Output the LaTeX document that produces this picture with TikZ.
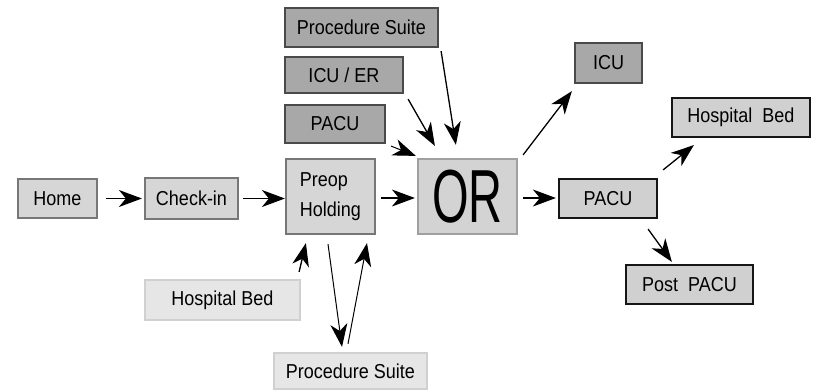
\documentclass[tikz,border=0pt]{standalone}
\usepackage{fontspec}
\setmainfont{Liberation Sans}
\usepackage{graphicx}
\usetikzlibrary{arrows.meta,calc}
\definecolor{fdark}{HTML}{A8A8A8}
\definecolor{bdark}{HTML}{4A4A4A}
\definecolor{fmid}{HTML}{D6D6D6}
\definecolor{bmid}{HTML}{777777}
\definecolor{fl}{HTML}{D3D3D3}
\definecolor{bor}{HTML}{A0A0A0}
\definecolor{flight}{HTML}{E6E6E6}
\definecolor{blight}{HTML}{D0D0D0}
\definecolor{fright}{HTML}{D0D0D0}
\definecolor{bright}{HTML}{161616}
\newcommand{\St}[1]{\scalebox{1}[1.12]{#1}}
\begin{document}
\begin{tikzpicture}[x=1pt,y=-1pt,
  box/.style={rectangle,inner sep=0pt,line width=2.2pt,font=\fontsize{18}{30}\selectfont},
  darkbox/.style={box,fill=fdark,draw=bdark},
  midbox/.style={box,fill=fmid,draw=bmid},
  orbox/.style={box,fill=fl,draw=bor},
  lightbox/.style={box,fill=flight,draw=blight},
  rightbox/.style={box,fill=fright,draw=bright},
  arr/.style={line width=1.3pt,arrows={-Stealth[length=23pt,width=17pt,inset=7pt]}}]
\useasboundingbox (0,0) rectangle (815,389);
\node[midbox,minimum width=79pt,minimum height=39pt] (home) at (57.5,198.5) {\St{Home}};
\node[midbox,minimum width=93pt,minimum height=41pt] (checkin) at (191.5,198.5) {\St{Check-in}};
\node[midbox,minimum width=89pt,minimum height=75pt,align=left] (preop) at (330.5,196.5) {\St{Preop}\\\St{Holding}};
\node[orbox,minimum width=99pt,minimum height=75pt,font=\fontsize{47}{50}\selectfont] (or) at (467.5,196.5) {\scalebox{1}[1.6]{OR}};
\node[darkbox,minimum width=153pt,minimum height=39pt] (ps1) at (361.5,27.5) {\St{Procedure Suite}};
\node[darkbox,minimum width=118pt,minimum height=36pt] (icuer) at (344,75) {\St{ICU / ER}};
\node[darkbox,minimum width=100pt,minimum height=38pt] (pacu1) at (335,124) {\St{PACU}};
\node[darkbox,minimum width=67pt,minimum height=40pt] (icu) at (608.5,63) {\St{ICU}};
\node[rightbox,minimum width=138pt,minimum height=39pt] (hb2) at (741,117.5) {\St{Hospital\ \ Bed}};
\node[rightbox,minimum width=98pt,minimum height=39pt] (pacu2) at (608,198.5) {\St{PACU}};
\node[rightbox,minimum width=127pt,minimum height=39pt] (post) at (689.5,284.5) {\St{Post\ \ PACU}};
\node[lightbox,minimum width=155pt,minimum height=40pt] (hb1) at (222.5,300) {\St{Hospital Bed}};
\node[lightbox,minimum width=153pt,minimum height=36pt] (ps2) at (350.5,371) {\St{Procedure Suite}};
% connectors
\draw[arr,shorten <=8pt,shorten >=2pt] (home.east) -- (checkin.west);
\draw[arr,shorten <=4pt] (checkin.east) -- (checkin.east -| preop.west);
\draw[arr,shorten <=5pt,shorten >=2pt] ($(preop.east)+(0,1.5)$) -- ($(or.west)+(0,1.5)$);
\draw[arr] ($(ps1.south east)+(2,3)$) -- ($(or.north west)+(39,-13)$);
\draw[arr] ($(icuer.south east)+(4,5)$) -- ($(or.north west)+(18,-12)$);
\draw[arr,line width=1pt] ($(pacu1.south east)+(5,2)$) -- ($(or.north west)+(-1,-2)$);
\draw[arr] ($(or.north east)+(5,-3)$) -- ($(icu.south west)+(-2,7)$);
\draw[arr,shorten <=5pt,shorten >=2pt] ($(or.east)+(0,1.5)$) -- ($(or.east -| pacu2.west)+(0,1.5)$);
\draw[arr] ($(pacu2.north east)+(5,-8)$) -- ($(hb2.south west)+(23,7)$);
\draw[arr] ($(pacu2.south east)+(-10,10)$) -- ($(post.north west)+(47,-2)$);
\draw[arr] ($(hb1.north east)+(-2,-7)$) -- ($(preop.south west)+(21,8)$);
\draw[arr,line width=1pt] ($(preop.south)+(-2.5,9)$) -- ($(ps2.north)+(-8.5,-5)$);
\draw[arr,line width=1pt] ($(ps2.north)+(-2.5,-8)$) -- ($(preop.south)+(36.5,8)$);
\end{tikzpicture}
\end{document}
